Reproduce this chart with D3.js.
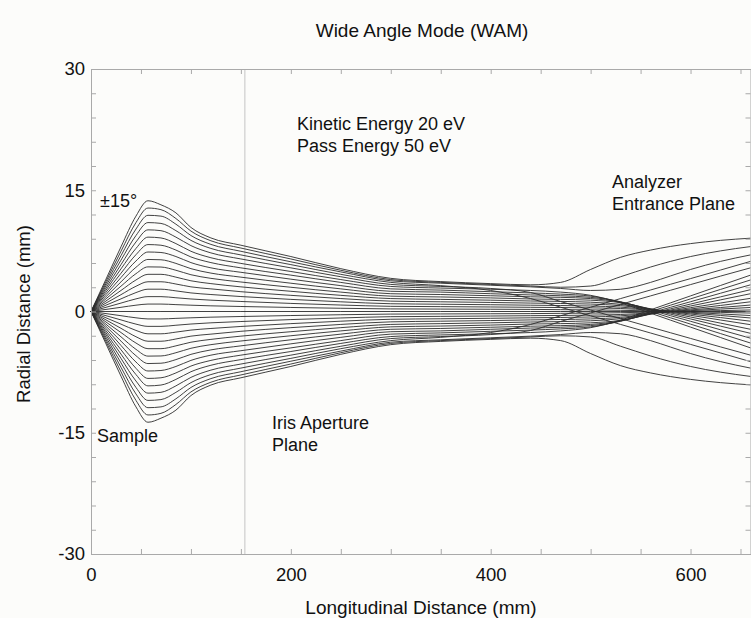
<!DOCTYPE html>
<html>
<head>
<meta charset="utf-8">
<script src="https://cdn.jsdelivr.net/npm/d3@7"></script>
<style>
  body { margin: 0; background: #fcfcfa; }
  svg { display: block; font-family: "Liberation Sans", Arial, sans-serif; }
</style>
</head>
<body>
<svg width="751" height="618"></svg>
<script>
// stations along the lens axis (mm) where the radial positions were read
const longitudinalMm = [0, 15, 30, 45, 57, 70, 85, 100, 120, 150, 200, 250, 300, 350, 400, 440, 470, 500, 530, 560, 580, 600, 630, 660];

// start angles (deg) of the upper rays; lower rays are their mirror images
const launchAnglesDeg = [1, 2, 3, 4, 5, 6, 7, 8, 9, 10, 11, 12, 13, 14, 15];

// radial distance (mm) of each ray at the stations above
const ray0 = [0, 0, 0, 0, 0, 0, 0, 0, 0, 0, 0, 0, 0, 0, 0, 0, 0, 0, 0, 0, 0, 0, 0, 0];
const ray1 = [0, 0.26, 0.52, 0.78, 0.92, 0.92, 0.85, 0.78, 0.70, 0.62, 0.50, 0.40, 0.32, 0.30, 0.28, 0.26, 0.23, 0.20, 0.15, 0.07, 0.02, -0.03, -0.11, -0.19];
const ray2 = [0, 0.52, 1.04, 1.56, 1.84, 1.84, 1.70, 1.55, 1.40, 1.24, 1.00, 0.80, 0.64, 0.60, 0.56, 0.52, 0.49, 0.45, 0.37, 0.17, 0.03, -0.10, -0.30, -0.50];
const ray3 = [0, 0.78, 1.56, 2.34, 2.76, 2.76, 2.55, 2.30, 2.10, 1.85, 1.50, 1.20, 0.96, 0.90, 0.84, 0.78, 0.74, 0.68, 0.54, 0.23, 0.02, -0.19, -0.49, -0.80];
const ray4 = [0, 1.04, 2.08, 3.12, 3.68, 3.68, 3.40, 3.05, 2.80, 2.45, 2.00, 1.60, 1.28, 1.20, 1.12, 1.04, 0.99, 0.92, 0.73, 0.28, -0.01, -0.31, -0.75, -1.20];
const ray5 = [0, 1.30, 2.60, 3.90, 4.60, 4.60, 4.25, 3.80, 3.45, 3.05, 2.50, 2.00, 1.60, 1.50, 1.40, 1.30, 1.25, 1.15, 0.89, 0.31, -0.08, -0.47, -1.05, -1.63];
const ray6 = [0, 1.57, 3.13, 4.68, 5.52, 5.50, 5.10, 4.55, 4.10, 3.65, 3.00, 2.40, 1.90, 1.80, 1.68, 1.55, 1.50, 1.40, 1.09, 0.33, -0.18, -0.68, -1.44, -2.20];
const ray7 = [0, 1.83, 3.66, 5.47, 6.44, 6.40, 5.95, 5.30, 4.75, 4.25, 3.50, 2.80, 2.20, 2.10, 1.95, 1.82, 1.75, 1.60, 1.16, 0.27, -0.33, -0.92, -1.81, -2.70];
const ray8 = [0, 2.10, 4.20, 6.25, 7.36, 7.30, 6.80, 6.05, 5.40, 4.85, 4.00, 3.20, 2.50, 2.40, 2.20, 2.05, 1.95, 1.75, 1.21, 0.17, -0.52, -1.21, -2.26, -3.30];
const ray9 = [0, 2.37, 4.73, 7.03, 8.28, 8.20, 7.60, 6.75, 6.05, 5.40, 4.50, 3.60, 2.80, 2.65, 2.45, 2.30, 2.15, 1.90, 1.17, 0.00, -0.78, -1.56, -2.73, -3.90];
const ray10 = [0, 2.64, 5.27, 7.80, 9.20, 9.10, 8.40, 7.45, 6.65, 5.95, 4.95, 3.95, 3.10, 2.90, 2.75, 2.60, 2.40, 2.00, 1.07, -0.21, -1.07, -1.93, -3.22, -4.50];
const ray11 = [0, 2.90, 5.80, 8.60, 10.10, 10.00, 9.20, 8.15, 7.25, 6.50, 5.40, 4.30, 3.35, 3.10, 2.85, 2.35, 1.23, 0.18, -0.88, -1.93, -2.63, -3.33, -4.38, -5.40];
const ray12 = [0, 3.18, 6.35, 9.40, 11.00, 10.90, 10.00, 8.80, 7.80, 7.00, 5.80, 4.60, 3.60, 3.20, 2.60, 1.60, 0.53, -0.53, -1.60, -2.66, -3.37, -4.07, -5.13, -6.20];
const ray13 = [0, 3.45, 6.90, 10.20, 11.90, 11.80, 10.80, 9.40, 8.30, 7.45, 6.15, 4.90, 3.80, 3.50, 3.25, 3.05, 2.85, 2.60, 2.75, 3.60, 4.40, 5.20, 6.20, 7.00];
const ray14 = [0, 3.73, 7.45, 11.00, 12.80, 12.60, 11.50, 9.95, 8.75, 7.85, 6.50, 5.10, 3.95, 3.60, 3.35, 3.15, 3.00, 3.15, 4.30, 5.50, 6.20, 6.80, 7.50, 8.03];
const ray15 = [0, 4.00, 8.00, 11.80, 13.70, 13.20, 12.20, 10.40, 9.10, 8.20, 6.80, 5.30, 4.10, 3.70, 3.45, 3.30, 3.60, 5.20, 6.70, 7.60, 8.05, 8.40, 8.80, 9.07];

const upperRays = [ray1, ray2, ray3, ray4, ray5, ray6, ray7, ray8, ray9, ray10, ray11, ray12, ray13, ray14, ray15];

const xTicks = [0, 50, 100, 150, 200, 250, 300, 350, 400, 450, 500, 550, 600, 650];
const xLabels = [0, 200, 400, 600];
const yTicks = [-30, -27, -24, -21, -18, -15, -12, -9, -6, -3, 0, 3, 6, 9, 12, 15, 18, 21, 24, 27, 30];
const yLabels = [-30, -15, 0, 15, 30];
const irisPlaneMm = 154;

const svg = d3.select("svg");
const axisColor = "#a9a9a9";

const x = d3.scaleLinear().domain([0, 660]).range([91, 750.5]);
const y = d3.scaleLinear().domain([-30, 30]).range([554, 69]);

svg.append("rect").attr("width", 751).attr("height", 618).attr("fill", "#fcfcfa");

// iris aperture plane
svg.append("line")
  .attr("x1", x(irisPlaneMm)).attr("x2", x(irisPlaneMm))
  .attr("y1", y(30)).attr("y2", y(-30))
  .attr("stroke", "#c4c4c4").attr("stroke-width", 1);

// trajectories
const rays = [ray0];
upperRays.forEach((r) => {
  rays.push(r);
  rays.push(r.map((v) => -v));
});

const line = d3.line()
  .x((d) => x(d[0]))
  .y((d) => y(d[1]))
  .curve(d3.curveMonotoneX);

svg.append("g")
  .selectAll("path")
  .data(rays)
  .join("path")
  .attr("d", (r) => line(longitudinalMm.map((xm, i) => [xm, r[i]])))
  .attr("fill", "none")
  .attr("stroke", "#2b2b2b")
  .attr("stroke-width", 0.9);

// frame and ticks (ticks point inward)
const styleAxis = (g) => {
  g.select(".domain").attr("stroke", axisColor);
  g.selectAll(".tick line").attr("stroke", axisColor);
  g.selectAll("text")
    .attr("fill", "#111")
    .style("font-size", "18.5px")
    .style("font-family", '"Liberation Sans", Arial, sans-serif');
};

svg.append("g")
  .attr("transform", `translate(0,${y(-30)})`)
  .call(d3.axisBottom(x).tickValues(xTicks).tickSizeInner(-5).tickSizeOuter(0).tickPadding(14)
    .tickFormat((d) => (xLabels.includes(d) ? d : "")))
  .call(styleAxis);

svg.append("g")
  .attr("transform", `translate(0,${y(30)})`)
  .call(d3.axisTop(x).tickValues(xTicks).tickSizeInner(-5).tickSizeOuter(0).tickFormat(""))
  .call(styleAxis);

svg.append("g")
  .attr("transform", `translate(${x(0)},0)`)
  .call(d3.axisLeft(y).tickValues(yTicks).tickSizeInner(-5).tickSizeOuter(0).tickPadding(6)
    .tickFormat((d) => (yLabels.includes(d) ? d : "")))
  .call(styleAxis);

svg.append("g")
  .attr("transform", `translate(${x(660)},0)`)
  .call(d3.axisRight(y).tickValues(yTicks).tickSizeInner(-5).tickSizeOuter(0).tickFormat(""))
  .call(styleAxis);

// titles
const txt = (str, tx, ty, opts = {}) =>
  svg.append("text")
    .attr("x", tx).attr("y", ty)
    .attr("text-anchor", opts.anchor || "start")
    .attr("transform", opts.rotate ? `rotate(-90,${tx},${ty})` : null)
    .attr("fill", "#111")
    .style("font-size", (opts.size || 18) + "px")
    .text(str);

txt("Wide Angle Mode (WAM)", 422, 37, { anchor: "middle", size: 19 });
txt("Longitudinal Distance (mm)", 421, 614, { anchor: "middle", size: 19 });
txt("Radial Distance (mm)", 30, 314, { anchor: "middle", rotate: true, size: 18.5 });

txt("\u00b115\u00b0", 100, 207);
txt("Kinetic Energy 20 eV", 297, 130);
txt("Pass Energy 50 eV", 297, 152);
txt("Analyzer", 612, 188);
txt("Entrance Plane", 612, 210);
txt("Sample", 97, 442);
txt("Iris Aperture", 272, 429);
txt("Plane", 272, 451);
</script>
</body>
</html>
